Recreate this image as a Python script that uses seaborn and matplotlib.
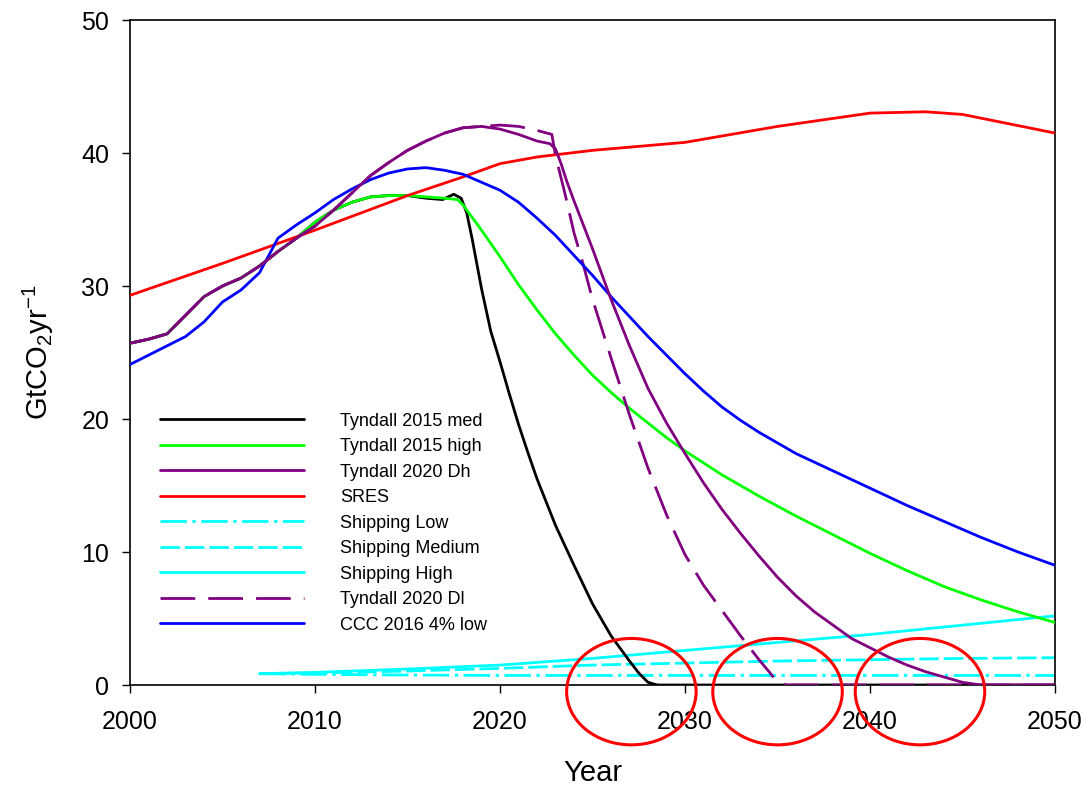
import numpy as np
import pandas as pd
import matplotlib.pyplot as plt
from matplotlib.patches import Ellipse
import seaborn as sns

# Tyndall 2020 Dh (historic part shared by all Tyndall series)
dh_years = [2000, 2001, 2002, 2003, 2004, 2005, 2006, 2007, 2008, 2009, 2010, 2011, 2012,
            2013, 2014, 2015, 2016, 2017, 2018, 2019, 2020, 2021, 2022, 2022.7, 2023.0,
            2023.3, 2023.6, 2024, 2024.5, 2025, 2025.5, 2026, 2027, 2028, 2029, 2030, 2031,
            2032, 2033, 2034, 2035, 2036, 2037, 2038, 2039, 2040, 2041, 2042, 2043, 2044,
            2045, 2046, 2050]
dh_values = [25.7, 26.0, 26.4, 27.8, 29.2, 30.0, 30.6, 31.5, 32.6, 33.6, 34.5, 35.7, 37.0,
             38.3, 39.3, 40.2, 40.9, 41.5, 41.9, 42.0, 41.8, 41.4, 40.9, 40.7, 40.3,
             39.2, 37.9, 36.4, 34.6, 32.8, 30.9, 29.0, 25.5, 22.3, 19.7, 17.4, 15.2,
             13.2, 11.4, 9.7, 8.1, 6.7, 5.5, 4.5, 3.5, 2.8, 2.1, 1.5, 1.0, 0.6,
             0.2, 0.0, 0.0]

# Tyndall 2020 Dl
dl_years = [2000, 2001, 2002, 2003, 2004, 2005, 2006, 2007, 2008, 2009, 2010, 2011, 2012,
            2013, 2014, 2015, 2016, 2017, 2018, 2019, 2020, 2021, 2022, 2022.8, 2023,
            2023.5, 2024, 2024.5, 2025, 2026, 2027, 2028, 2029, 2030, 2031, 2032, 2033,
            2034, 2034.6, 2035, 2035.5, 2050]
dl_values = [25.7, 26.0, 26.4, 27.8, 29.2, 30.0, 30.6, 31.5, 32.6, 33.6, 34.5, 35.7, 37.0,
             38.3, 39.3, 40.2, 40.9, 41.5, 41.9, 42.0, 42.1, 42.0, 41.7, 41.4, 39.8,
             37.0, 34.0, 31.6, 29.0, 24.6, 20.3, 16.3, 12.8, 9.8, 7.5, 5.6, 3.7,
             1.9, 0.9, 0.2, 0.0, 0.0]

# Tyndall 2015 high
high_years = [2000, 2001, 2002, 2003, 2004, 2005, 2006, 2007, 2008, 2009, 2010, 2011, 2012,
              2013, 2014, 2015, 2016, 2017, 2017.7, 2018, 2019, 2020, 2021, 2022, 2023,
              2024, 2025, 2026, 2027, 2028, 2029, 2030, 2031, 2032, 2033, 2034, 2036,
              2038, 2040, 2042, 2044, 2046, 2048, 2050]
high_values = [25.7, 26.0, 26.4, 27.8, 29.2, 30.0, 30.6, 31.5, 32.6, 33.6, 34.8, 35.7, 36.3,
               36.7, 36.8, 36.8, 36.7, 36.6, 36.5, 36.1, 34.2, 32.2, 30.1, 28.2, 26.4,
               24.8, 23.3, 22.0, 20.8, 19.7, 18.6, 17.6, 16.7, 15.8, 15.0, 14.2, 12.7,
               11.3, 9.9, 8.6, 7.4, 6.4, 5.5, 4.7]

# Tyndall 2015 med
med_years = [2000, 2001, 2002, 2003, 2004, 2005, 2006, 2007, 2008, 2009, 2010, 2011, 2012,
             2013, 2014, 2015, 2016, 2016.9, 2017.5, 2017.9, 2018.2, 2018.5, 2019, 2019.5,
             2020, 2020.5, 2021, 2021.5, 2022, 2023, 2024, 2025, 2026, 2027, 2027.5, 2028,
             2028.5, 2050]
med_values = [25.7, 26.0, 26.4, 27.8, 29.2, 30.0, 30.6, 31.5, 32.6, 33.6, 34.8, 35.7, 36.3,
              36.7, 36.8, 36.8, 36.6, 36.5, 36.9, 36.6, 35.5, 33.5, 29.8, 26.6,
              24.3, 21.9, 19.6, 17.5, 15.5, 12.0, 9.0, 6.1, 3.7, 1.8, 0.9, 0.2,
              0.0, 0.0]

# SRES
sres_years = [2000, 2005, 2010, 2015, 2018, 2020, 2022, 2025, 2030, 2035, 2040, 2043, 2045, 2050]
sres_values = [29.3, 31.7, 34.2, 36.8, 38.2, 39.2, 39.7, 40.2, 40.8, 42.0, 43.0, 43.1, 42.9, 41.5]

# CCC 2016 4% low
ccc_years = [2000, 2001, 2002, 2003, 2004, 2005, 2006, 2007, 2008, 2009, 2010, 2011, 2012,
             2013, 2014, 2015, 2016, 2017, 2018, 2019, 2020, 2021, 2022, 2023, 2024, 2025,
             2026, 2027, 2028, 2029, 2030, 2031, 2032, 2033, 2034, 2035, 2036, 2038, 2040,
             2042, 2044, 2046, 2048, 2050]
ccc_values = [24.1, 24.8, 25.5, 26.2, 27.3, 28.8, 29.7, 31.0, 33.6, 34.6, 35.5, 36.5, 37.3,
              38.0, 38.5, 38.8, 38.9, 38.7, 38.4, 37.8, 37.2, 36.3, 35.1, 33.8, 32.3, 30.8,
              29.2, 27.7, 26.2, 24.8, 23.4, 22.1, 20.9, 19.9, 19.0, 18.2, 17.4, 16.1, 14.8,
              13.5, 12.3, 11.1, 10.0, 9.0]

# Shipping scenarios
ship_years = [2007, 2010, 2015, 2020, 2025, 2030, 2035, 2040, 2045, 2050]
ship_low = [0.85, 0.8, 0.75, 0.72, 0.72, 0.72, 0.72, 0.72, 0.72, 0.72]
ship_medium = [0.85, 0.9, 1.05, 1.25, 1.5, 1.65, 1.8, 1.9, 2.0, 2.05]
ship_high = [0.85, 0.95, 1.2, 1.5, 2.0, 2.6, 3.2, 3.8, 4.5, 5.2]

# highlighted regions (centre years)
circle_x = [2027.1, 2035.0, 2042.7]

sns.set_style("ticks")
plt.rcParams['font.family'] = ['Liberation Sans', 'DejaVu Sans']
plt.rcParams['mathtext.default'] = 'regular'
plt.rcParams['text.color'] = 'black'
plt.rcParams['axes.labelcolor'] = 'black'
plt.rcParams['xtick.color'] = 'black'
plt.rcParams['ytick.color'] = 'black'

fig = plt.figure(figsize=(10.87, 7.91), dpi=100)
ax = fig.add_axes([0.1196, 0.134, 0.851, 0.8407])

series = [
    ("Tyndall 2015 med", med_years, med_values, "black", "-"),
    ("Tyndall 2015 high", high_years, high_values, "#00ff00", "-"),
    ("Tyndall 2020 Dh", dh_years, dh_values, "#800080", "-"),
    ("SRES", sres_years, sres_values, "red", "-"),
    ("Shipping Low", ship_years, ship_low, "cyan", (0, (9.5, 2, 1.2, 2))),
    ("Shipping Medium", ship_years, ship_medium, "cyan", (0, (7, 1.8))),
    ("Shipping High", ship_years, ship_high, "cyan", "-"),
    ("Tyndall 2020 Dl", dl_years, dl_values, "#800080", (0, (12.5, 4.7))),
    ("CCC 2016 4% low", ccc_years, ccc_values, "blue", "-"),
]
zorders = [3, 3, 4, 3, 2, 2, 2, 3, 3]

for (label, xs, ys, col, ls), z in zip(series, zorders):
    df = pd.DataFrame({"Year": xs, "value": ys})
    sns.lineplot(data=df, x="Year", y="value", ax=ax, color=col, linestyle=ls,
                 linewidth=2, label=label, estimator=None, sort=False, zorder=z)

for cx in circle_x:
    ax.add_patch(Ellipse((cx, -0.5), 7.0, 8.0, fill=False, edgecolor="red",
                         linewidth=2.2, clip_on=False, zorder=5))

ax.set_xlim(2000, 2050)
ax.set_ylim(0, 50)
ax.set_xticks(np.arange(2000, 2051, 10))
ax.set_yticks(np.arange(0, 51, 10))
ax.tick_params(axis="both", labelsize=18, length=6, width=1, direction="out",
               top=False, right=False, color="black")
ax.tick_params(axis="x", pad=12)
ax.tick_params(axis="y", pad=9)
for side in ["left", "bottom", "top", "right"]:
    ax.spines[side].set_visible(True)
    ax.spines[side].set_color("black")
    ax.spines[side].set_linewidth(1.2)

ax.set_xlabel("Year", fontsize=21, labelpad=18)
ax.set_ylabel("GtCO$_2$yr$^{-1}$", fontsize=21, labelpad=18)

ax.legend(loc="upper left", bbox_to_anchor=(0.032, 0.4095), frameon=False, fontsize=13,
          handlelength=8, handletextpad=2, labelspacing=0.47, borderpad=0, borderaxespad=0)

fig.savefig("out.png", dpi=100)
